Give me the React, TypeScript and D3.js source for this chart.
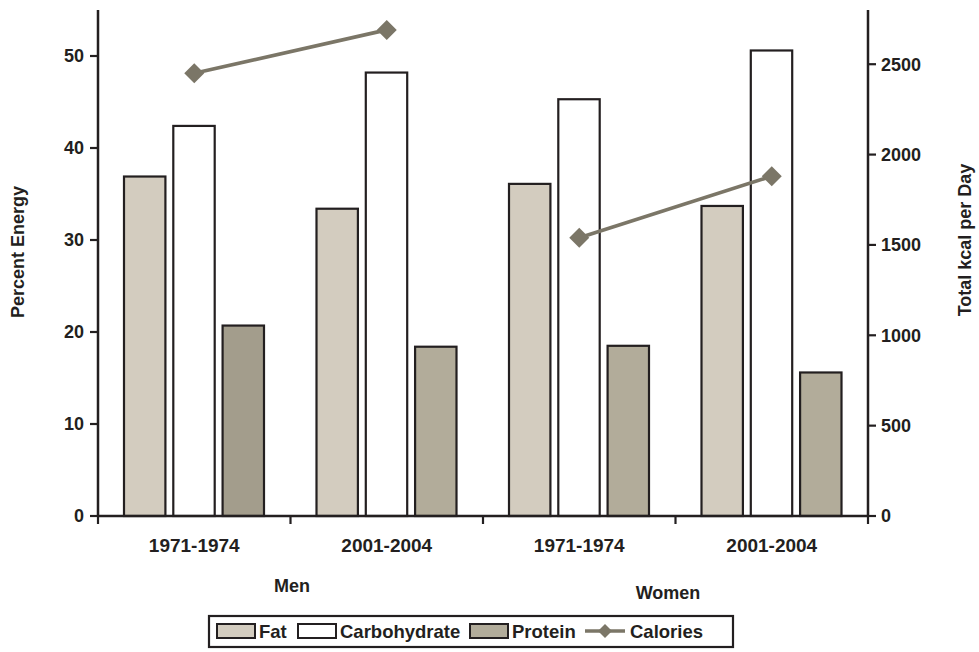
import React from "react";
import * as d3 from "d3";

const groups = ["Men 1971-1974", "Men 2001-2004", "Women 1971-1974", "Women 2001-2004"];
const periodLabels = ["1971-1974", "2001-2004", "1971-1974", "2001-2004"];
const sexLabels = ["Men", "Women"];
const seriesNames = ["Fat", "Carbohydrate", "Protein"];
const fatValues = [36.9, 33.4, 36.1, 33.7];
const carbValues = [42.4, 48.2, 45.3, 50.6];
const proteinValues = [20.7, 18.4, 18.5, 15.6];
const calorieValues = [2450, 2690, 1540, 1880];
const calorieSegments = [[0, 1], [2, 3]];
const leftTicks = [0, 10, 20, 30, 40, 50];
const rightTicks = [0, 500, 1000, 1500, 2000, 2500];

const W = 979;
const H = 652;
const X0 = 98;
const X1 = 868;
const Y0 = 516;
const YTOP = 10;
const INK = "#231f20";
const FONT = "'Liberation Sans', Arial, sans-serif";
const fills = ["#d3ccbf", "#ffffff", "#b2ac9a"];
const proteinDark = "#a39d8c";
const lineColor = "#7b7667";

export default function App() {
  const xg = d3.scaleBand<string>().domain(groups).range([X0, X1]).padding(0);
  const xs = d3
    .scaleBand<string>()
    .domain(seriesNames)
    .range([26, xg.bandwidth() - 26.5])
    .paddingInner(0.16);
  const yL = d3.scaleLinear().domain([0, 55]).range([Y0, YTOP]);
  const yR = d3.scaleLinear().domain([0, 2800]).range([Y0, YTOP]);
  const seriesValues = [fatValues, carbValues, proteinValues];
  const line = d3
    .line<number>()
    .x((i) => xg(groups[i])! + xg.bandwidth() / 2)
    .y((i) => yR(calorieValues[i]));
  const diamond = (cx: number, cy: number, r: number) =>
    `M${cx},${cy - r}L${cx + r},${cy}L${cx},${cy + r}L${cx - r},${cy}Z`;

  const boundaries = [...groups.map((g) => xg(g)!), X1];

  const ly = 631;
  const legendItems = [
    { type: "bar", fill: fills[0], label: "Fat", x: 217 },
    { type: "bar", fill: fills[1], label: "Carbohydrate", x: 298 },
    { type: "bar", fill: fills[2], label: "Protein", x: 470 },
    { type: "line", fill: lineColor, label: "Calories", x: 585 },
  ];

  return (
    <svg width={W} height={H} style={{ display: "block", position: "absolute", left: 0, top: 0 }} fontFamily={FONT}>
      <rect width={W} height={H} fill="#fff" />
      {groups.map((g, gi) =>
        seriesNames.map((s, si) => {
          const v = seriesValues[si][gi];
          const x = xg(g)! + xs(s)!;
          const fill = si === 2 && gi === 0 ? proteinDark : fills[si];
          return (
            <rect
              key={g + s}
              x={x}
              y={yL(v)}
              width={xs.bandwidth()}
              height={Y0 - yL(v)}
              fill={fill}
              stroke={INK}
              strokeWidth={2.2}
            />
          );
        })
      )}
      {calorieSegments.map((seg, i) => (
        <path key={i} d={line(seg)!} fill="none" stroke={lineColor} strokeWidth={3.6} />
      ))}
      {calorieValues.map((v, i) => (
        <path key={i} d={diamond(xg(groups[i])! + xg.bandwidth() / 2, yR(v), 10)} fill={lineColor} />
      ))}
      <line x1={X0} y1={YTOP} x2={X0} y2={Y0 + 1} stroke={INK} strokeWidth={2.5} />
      <line x1={X1} y1={YTOP} x2={X1} y2={Y0 + 1} stroke={INK} strokeWidth={2.5} />
      <line x1={X0 - 1} y1={Y0} x2={X1 + 1} y2={Y0} stroke={INK} strokeWidth={2.5} />
      {leftTicks.map((t) => (
        <g key={t}>
          <line x1={X0 - 8} x2={X0} y1={yL(t)} y2={yL(t)} stroke={INK} strokeWidth={2.2} />
          <text x={X0 - 14} y={yL(t)} dy="0.35em" textAnchor="end" fontSize={18} fontWeight="bold" fill={INK}>
            {t}
          </text>
        </g>
      ))}
      {rightTicks.map((t) => (
        <g key={t}>
          <line x1={X1} x2={X1 + 8} y1={yR(t)} y2={yR(t)} stroke={INK} strokeWidth={2.2} />
          <text x={X1 + 13} y={yR(t)} dy="0.35em" textAnchor="start" fontSize={18} fontWeight="bold" fill={INK}>
            {t}
          </text>
        </g>
      ))}
      {boundaries.map((b, i) => (
        <line key={i} x1={b} x2={b} y1={Y0} y2={Y0 + 8} stroke={INK} strokeWidth={2.2} />
      ))}
      {groups.map((g, i) => (
        <text
          key={g}
          x={xg(g)! + xg.bandwidth() / 2}
          y={552}
          textAnchor="middle"
          fontSize={19}
          fontWeight="bold"
          fill={INK}
        >
          {periodLabels[i]}
        </text>
      ))}
      <text x={292} y={592} textAnchor="middle" fontSize={18} fontWeight="bold" fill={INK}>
        {sexLabels[0]}
      </text>
      <text x={668} y={599} textAnchor="middle" fontSize={18} fontWeight="bold" fill={INK}>
        {sexLabels[1]}
      </text>
      <text
        transform={`translate(24,252) rotate(-90)`}
        textAnchor="middle"
        fontSize={18}
        fontWeight="bold"
        fill={INK}
      >
        Percent Energy
      </text>
      <text
        transform={`translate(971,240) rotate(-90)`}
        textAnchor="middle"
        fontSize={18}
        fontWeight="bold"
        fill={INK}
      >
        Total kcal per Day
      </text>
      <rect x={209} y={616} width={524} height={31} fill="#fff" stroke={INK} strokeWidth={2.2} />
      {legendItems.map((it) => (
        <g key={it.label}>
          {it.type === "bar" ? (
            <rect x={it.x} y={ly - 7} width={38} height={14} fill={it.fill} stroke={INK} strokeWidth={2} />
          ) : (
            <g>
              <line x1={it.x} x2={it.x + 40} y1={ly} y2={ly} stroke={lineColor} strokeWidth={3.6} />
              <path d={diamond(it.x + 20, ly, 7)} fill={lineColor} />
            </g>
          )}
          <text x={it.x + (it.type === "bar" ? 42 : 45)} y={ly} dy="0.36em" fontSize={18.5} fontWeight="bold" fill={INK}>
            {it.label}
          </text>
        </g>
      ))}
    </svg>
  );
}
